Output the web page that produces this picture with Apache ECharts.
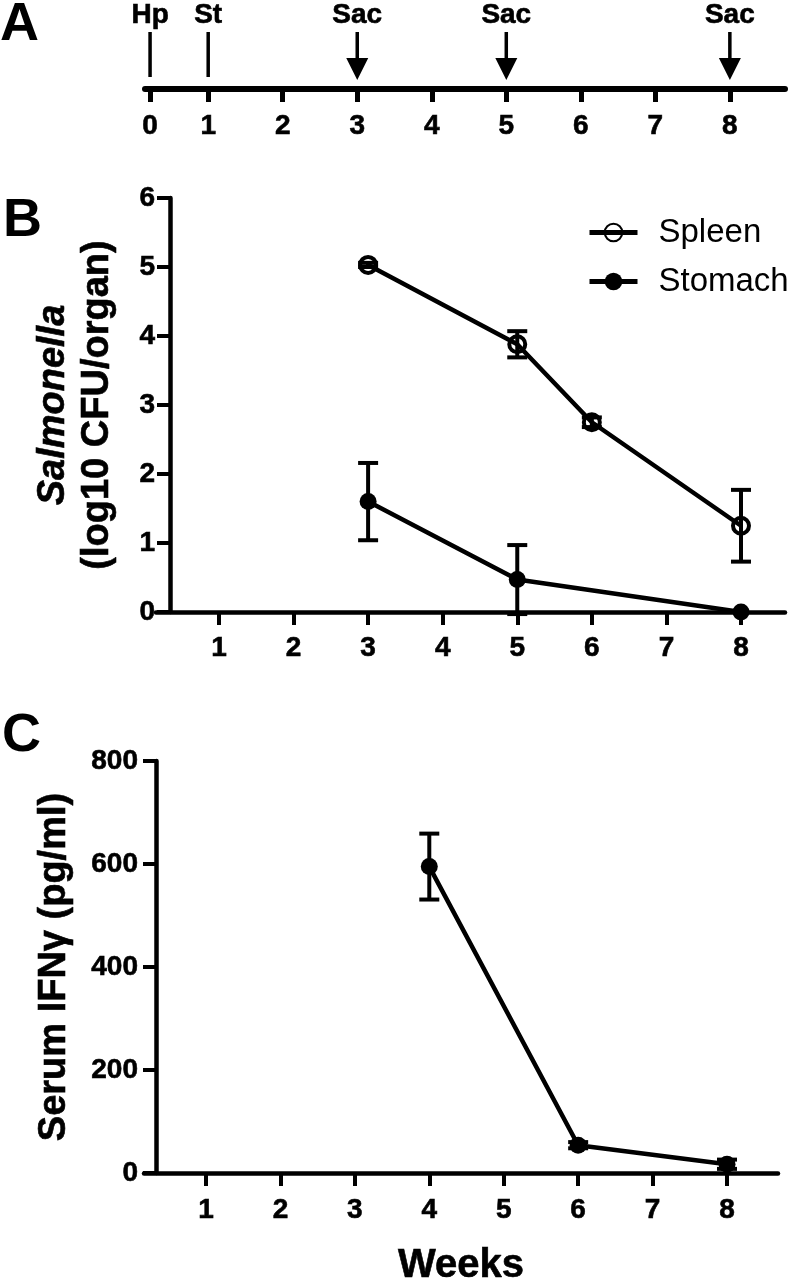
<!DOCTYPE html>
<html><head><meta charset="utf-8">
<script src="https://cdn.jsdelivr.net/npm/echarts@6/dist/echarts.min.js"></script>
<style>html,body{margin:0;padding:0;background:#fff}#c{width:791px;height:1280px}</style>
</head><body><div id="c"></div>
<script>
// ---------- data ----------
// Panel A: timeline
const timelineTicks = [0, 1, 2, 3, 4, 5, 6, 7, 8];
const eventWeeks = [0, 1, 3, 5, 8];
const eventNames = ['Hp', 'St', 'Sac', 'Sac', 'Sac'];
const eventKinds = ['mark', 'mark', 'arrow', 'arrow', 'arrow'];

// Panels B and C: week ticks
const weekTicks = [1, 2, 3, 4, 5, 6, 7, 8];

// Panel B: Salmonella (log10 CFU/organ), mean and SEM
const spleenWeeks = [3, 5, 6, 8];
const spleenMean = [5.03, 3.88, 2.75, 1.25];
const spleenSem = [0.03, 0.19, 0.07, 0.52];

const stomachWeeks = [3, 5, 8];
const stomachMean = [1.60, 0.47, 0.00];
const stomachSem = [0.56, 0.50, 0.00];

// Panel C: serum IFN-gamma (pg/ml), mean and SEM
const ifnWeeks = [4, 6, 8];
const ifnMean = [595, 54, 17];
const ifnSem = [64, 6, 9];

// ---------- helpers ----------
const FONT = '"Liberation Sans", Arial, Helvetica, sans-serif';
// in the original drawing, the week-0 tick of the timeline sits closer to week 1
function tPos(w) { return w === 0 ? 0.22 : w; }
const timelinePositions = timelineTicks.map(tPos);

function zip3(xs, ys, es) { return xs.map((x, i) => [x, ys[i], es[i]]); }

function errRender(params, api) {
  const x = api.value(0), m = api.value(1), e = api.value(2);
  if (!e) return null;
  const top = api.coord([x, m + e]);
  const bot = api.coord([x, m - e]);
  const hw = 10;
  const st = { stroke: '#000', lineWidth: 4 };
  return {
    type: 'group',
    children: [
      { type: 'line', shape: { x1: top[0], y1: top[1], x2: bot[0], y2: bot[1] }, style: st },
      { type: 'line', shape: { x1: top[0] - hw, y1: top[1], x2: top[0] + hw, y2: top[1] }, style: st },
      { type: 'line', shape: { x1: bot[0] - hw, y1: bot[1], x2: bot[0] + hw, y2: bot[1] }, style: st }
    ]
  };
}

function timelineRender(params, api) {
  const i = api.value(2);
  const p = api.coord([api.value(0), 0]);
  const x = p[0], y0 = p[1];
  const children = [];
  if (eventKinds[i] === 'mark') {
    children.push({ type: 'line', shape: { x1: x, y1: y0 - 57, x2: x, y2: y0 - 12 }, style: { stroke: '#000', lineWidth: 3.5 } });
  } else {
    children.push({ type: 'line', shape: { x1: x, y1: y0 - 57, x2: x, y2: y0 - 29 }, style: { stroke: '#000', lineWidth: 3.5 } });
    children.push({ type: 'polygon', shape: { points: [[x - 11, y0 - 31], [x + 11, y0 - 31], [x, y0 - 9]] }, style: { fill: '#000' } });
  }
  children.push({
    type: 'text', x: x, y: y0 - 60,
    style: { text: eventNames[i], fill: '#000', font: 'bold 28px ' + FONT, align: 'center', verticalAlign: 'bottom',
      stroke: '#000', lineWidth: 0.6 }
  });
  return { type: 'group', children: children };
}

const axLine = (w) => ({ show: true, onZero: false, lineStyle: { color: '#000', width: w } });
const axTick = (vals, w) => ({ show: true, length: 13, lineStyle: { color: '#000', width: w || 4 }, customValues: vals });
const lab = { color: '#000', fontFamily: FONT, fontWeight: 'bold', fontSize: 28, textBorderColor: '#000', textBorderWidth: 0.6 };
const titleStyle = { color: '#000', fontFamily: FONT, fontWeight: 'bold', fontSize: 38, textBorderColor: '#000', textBorderWidth: 0.6 };
const letterFont = 'bold 54px ' + FONT;

const chart = echarts.init(document.getElementById('c'), null, { renderer: 'canvas' });
chart.setOption({
  animation: false,
  backgroundColor: '#fff',
  graphic: [
    { type: 'text', left: 0, top: -2, style: { text: 'A', font: letterFont, fill: '#000' } },
    { type: 'text', left: 3, top: 194, style: { text: 'B', font: letterFont, fill: '#000' } },
    { type: 'text', left: 2, top: 709, style: { text: 'C', font: letterFont, fill: '#000' } }
  ],
  grid: [
    { left: 145, top: 20, width: 640, height: 69, outerBoundsMode: 'none', containLabel: false },
    { left: 156, top: 198, width: 629, height: 414, outerBoundsMode: 'none', containLabel: false },
    { left: 144, top: 761, width: 634, height: 412, outerBoundsMode: 'none', containLabel: false }
  ],
  legend: {
    data: ['Spleen', 'Stomach'],
    orient: 'vertical',
    left: 582, top: 211,
    itemWidth: 48, itemHeight: 22, itemGap: 16,
    selectedMode: false,
    lineStyle: { width: 5 },
    textStyle: { color: '#000', fontFamily: FONT, fontSize: 33, padding: [0, 0, 0, 16] }
  },
  xAxis: [
    {
      gridIndex: 0, type: 'value', min: 0.152, max: 8.74,
      axisLine: axLine(6), axisTick: axTick(timelinePositions, 5),
      axisLabel: Object.assign({}, lab, { margin: 23, customValues: timelinePositions,
        formatter: v => String(timelineTicks[timelinePositions.indexOf(v)]) }),
      splitLine: { show: false }
    },
    {
      gridIndex: 1, type: 'value', min: 0.156, max: 8.59,
      axisLine: axLine(4.5), axisTick: axTick(weekTicks),
      axisLabel: Object.assign({}, lab, { margin: 22, customValues: weekTicks }),
      splitLine: { show: false }
    },
    {
      gridIndex: 2, type: 'value', min: 0.167, max: 8.685,
      axisLine: axLine(4.5), axisTick: axTick(weekTicks),
      axisLabel: Object.assign({}, lab, { margin: 23, customValues: weekTicks }),
      splitLine: { show: false },
      name: 'Weeks', nameLocation: 'middle', nameGap: 73,
      nameTextStyle: Object.assign({}, titleStyle, { fontSize: 40 })
    }
  ],
  yAxis: [
    { gridIndex: 0, type: 'value', min: 0, max: 1, show: false },
    {
      gridIndex: 1, type: 'value', min: 0, max: 6, interval: 1, offset: -14,
      axisLine: axLine(4.5), axisTick: { show: true, length: 13, lineStyle: { color: '#000', width: 4 } },
      axisLabel: Object.assign({}, lab, { margin: 15 }),
      splitLine: { show: false },
      name: '{it|Salmonella}\n{n|(log10 CFU/organ)}',
      nameLocation: 'middle', nameRotate: 90, nameGap: 50,
      nameTextStyle: Object.assign({}, titleStyle, {
        lineHeight: 44,
        rich: {
          it: { fontFamily: FONT, fontStyle: 'italic', fontWeight: 'bold', fontSize: 38, lineHeight: 44, color: '#000', textBorderColor: '#000', textBorderWidth: 0.6 },
          n: { fontFamily: FONT, fontWeight: 'bold', fontSize: 38, lineHeight: 44, color: '#000', textBorderColor: '#000', textBorderWidth: 0.6 }
        }
      })
    },
    {
      gridIndex: 2, type: 'value', min: 0, max: 800, interval: 200, offset: -12,
      axisLine: axLine(4.5), axisTick: { show: true, length: 13, lineStyle: { color: '#000', width: 4 } },
      axisLabel: Object.assign({}, lab, { margin: 18 }),
      splitLine: { show: false },
      name: 'Serum IFNγ (pg/ml)', nameLocation: 'middle', nameRotate: 90, nameGap: 82,
      nameTextStyle: titleStyle
    }
  ],
  series: [
    {
      type: 'custom', xAxisIndex: 0, yAxisIndex: 0, renderItem: timelineRender,
      data: eventWeeks.map((w, i) => [tPos(w), 0, i]), z: 3
    },
    {
      type: 'custom', xAxisIndex: 1, yAxisIndex: 1, renderItem: errRender,
      data: zip3(spleenWeeks, spleenMean, spleenSem), z: 2
    },
    {
      type: 'custom', xAxisIndex: 1, yAxisIndex: 1, renderItem: errRender,
      data: zip3(stomachWeeks, stomachMean, stomachSem), z: 2
    },
    {
      name: 'Spleen', type: 'line', xAxisIndex: 1, yAxisIndex: 1,
      data: spleenWeeks.map((w, i) => [w, spleenMean[i]]),
      symbol: 'circle', symbolSize: 16,
      itemStyle: { color: 'rgba(0,0,0,0)', borderColor: '#000', borderWidth: 4 },
      lineStyle: { color: '#000', width: 4.5 }, z: 3
    },
    {
      name: 'Stomach', type: 'line', xAxisIndex: 1, yAxisIndex: 1,
      data: stomachWeeks.map((w, i) => [w, stomachMean[i]]),
      symbol: 'circle', symbolSize: 17,
      itemStyle: { color: '#000', borderColor: '#000', borderWidth: 0 },
      lineStyle: { color: '#000', width: 4.5 }, z: 3
    },
    {
      type: 'custom', xAxisIndex: 2, yAxisIndex: 2, renderItem: errRender,
      data: zip3(ifnWeeks, ifnMean, ifnSem), z: 2
    },
    {
      name: 'IFN', type: 'line', xAxisIndex: 2, yAxisIndex: 2,
      data: ifnWeeks.map((w, i) => [w, ifnMean[i]]),
      symbol: 'circle', symbolSize: 17,
      itemStyle: { color: '#000', borderWidth: 0 },
      lineStyle: { color: '#000', width: 4.5 }, z: 3
    }
  ]
});
</script></body></html>
